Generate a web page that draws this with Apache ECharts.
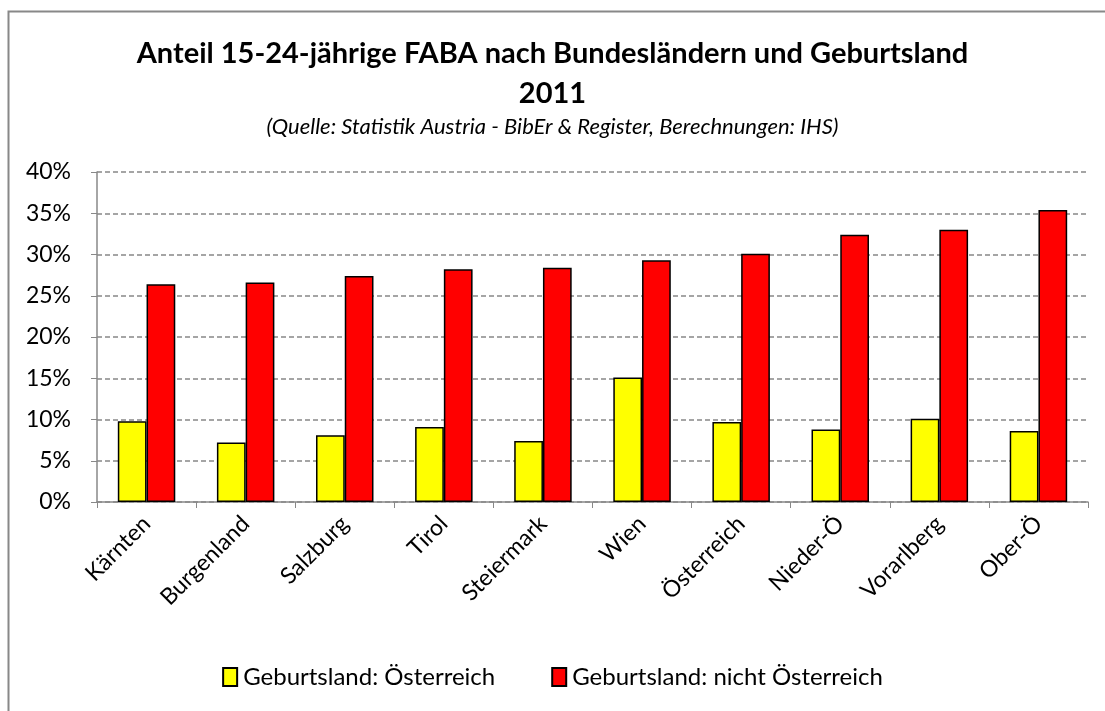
<!DOCTYPE html>
<html>
<head>
<meta charset="utf-8">
<script src="https://cdn.jsdelivr.net/npm/echarts@6/dist/echarts.min.js"></script>
<style>
  html, body { margin: 0; padding: 0; background: #fff; }
  #chart { width: 1105px; height: 711px; }
</style>
</head>
<body>
<div id="chart"></div>
<script>
// Kategorien und Werte (in %)
const laender = ['Kärnten', 'Burgenland', 'Salzburg', 'Tirol', 'Steiermark', 'Wien', 'Österreich', 'Nieder-Ö', 'Vorarlberg', 'Ober-Ö'];
const geburtOesterreich = [9.8, 7.2, 8.1, 9.1, 7.4, 15.1, 9.7, 8.8, 10.1, 8.6];
const geburtNichtOesterreich = [26.4, 26.6, 27.4, 28.2, 28.4, 29.3, 30.1, 32.4, 33.0, 35.4];
const yTicks = [0, 5, 10, 15, 20, 25, 30, 35, 40];

const font = 'Lato, "Open Sans", sans-serif';

let option = {
  animation: false,
  backgroundColor: '#fff',
  // Rahmen nur links und oben sichtbar (Bild ist beschnitten)
  graphic: [{
    type: 'polyline',
    shape: { points: [[8.5, 711], [8.5, 11.5], [1105, 11.5]] },
    style: { fill: 'none', stroke: '#888', lineWidth: 2 },
    silent: true
  }],
  title: [
    {
      text: 'Anteil 15-24-jährige FABA nach Bundesländern und Geburtsland\n2011',
      left: 'center',
      top: 29,
      textStyle: { fontFamily: font, fontSize: 29, fontWeight: 'bold', color: '#000', lineHeight: 40 }
    },
    {
      text: '(Quelle: Statistik Austria - BibEr & Register, Berechnungen: IHS)',
      left: 'center',
      top: 111,
      textStyle: { fontFamily: font, fontSize: 22, fontStyle: 'italic', fontWeight: 'normal', color: '#000' }
    }
  ],
  legend: {
    top: 660,
    left: 'center',
    icon: 'rect',
    itemWidth: 14,
    itemHeight: 18,
    itemGap: 56,
    textStyle: { fontFamily: font, fontSize: 24, color: '#000', padding: [0, 0, 0, 1] },
    data: ['Geburtsland: Österreich', 'Geburtsland: nicht Österreich']
  },
  grid: { left: 97, right: 17, top: 172, bottom: 209 },
  xAxis: {
    type: 'category',
    data: laender,
    axisLine: { lineStyle: { color: '#888', width: 1.5 } },
    axisTick: { show: true, length: 6, lineStyle: { color: '#888' } },
    axisLabel: { rotate: 45, margin: 18, fontFamily: font, fontSize: 23, color: '#000' }
  },
  yAxis: {
    type: 'value',
    min: 0,
    max: 40,
    interval: 5,
    axisLine: { show: true, lineStyle: { color: '#888', width: 1.5 } },
    axisTick: { show: true, length: 6, lineStyle: { color: '#888' } },
    axisLabel: {
      fontFamily: font, fontSize: 23, color: '#000', margin: 26,
      formatter: v => yTicks.includes(v) ? v + '%' : ''
    },
    splitLine: { lineStyle: { color: '#888', type: [5, 3], width: 1.5 } }
  },
  series: [
    {
      name: 'Geburtsland: Österreich',
      type: 'bar',
      data: geburtOesterreich,
      barGap: '0%',
      barCategoryGap: '42%',
      itemStyle: { color: '#ffff00', borderColor: '#000', borderWidth: 1.5 }
    },
    {
      name: 'Geburtsland: nicht Österreich',
      type: 'bar',
      data: geburtNichtOesterreich,
      barGap: '0%',
      barCategoryGap: '42%',
      itemStyle: { color: '#ff0000', borderColor: '#000', borderWidth: 1.5 }
    }
  ]
};

const chart = echarts.init(document.getElementById('chart'));
chart.setOption(option);
</script>
</body>
</html>
